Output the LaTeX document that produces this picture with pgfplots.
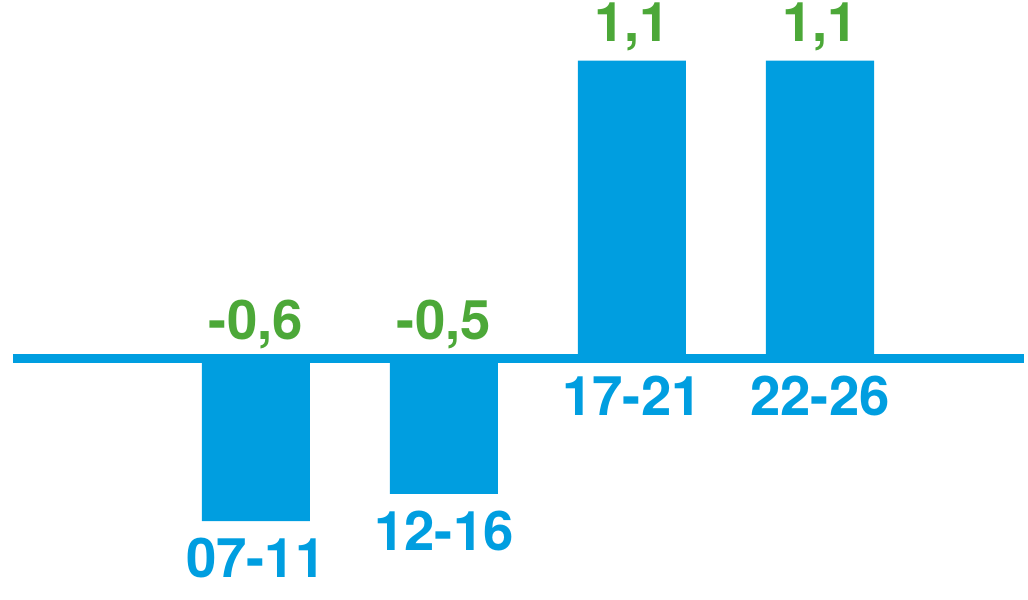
\documentclass[border=0pt]{standalone}
\usepackage{pgfplots}
\pgfplotsset{compat=1.18}
\usepackage{fontspec}
\setmainfont{TeX Gyre Heros}
\definecolor{barblue}{RGB}{0,158,224}
\definecolor{labgreen}{RGB}{76,168,56}
\begin{document}
\begin{tikzpicture}
\begin{axis}[
  scale only axis, width=1028bp, height=602bp,
  xmin=-1.361, xmax=4.084,
  ymin=-0.8897, ymax=1.3235,
  hide axis, clip=false,
]
\path (rel axis cs:0,0) rectangle (rel axis cs:1,1);
\addplot[barblue, line width=8.5bp, mark=none] coordinates {(-1.292,0) (4.084,0)};
\addplot[ybar, bar width=0.575, bar shift=0pt, fill=barblue, draw=none] coordinates {(0,-0.6) (1,-0.5) (2,1.1) (3,1.1)};
% value labels
\addplot[draw=none, mark=none, nodes near coords, point meta=explicit symbolic,
  nodes near coords style={anchor=base, inner sep=0pt, yshift=19.5bp, text=labgreen, font=\bfseries\fontsize{55}{62}\selectfont}]
  table[meta=lab] {
x y lab
0 0 -0,6
1 0 -0,5
2 1.1 1,1
3 1.1 1,1
};
% category labels
\addplot[draw=none, mark=none, nodes near coords, point meta=explicit symbolic,
  nodes near coords style={anchor=north, inner sep=0pt, yshift=-17bp, text=barblue, font=\bfseries\fontsize{55}{62}\selectfont}]
  table[meta=lab] {
x y lab
0 -0.6 07-11
1 -0.5 12-16
2 0 17-21
3 0 22-26
};
\end{axis}
\end{tikzpicture}
\end{document}
